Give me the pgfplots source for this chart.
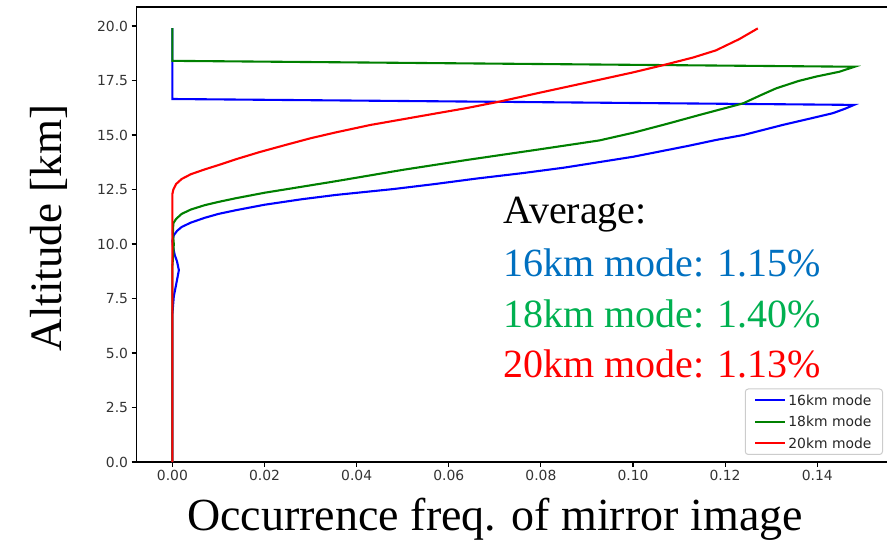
\documentclass[border=0pt]{standalone}
\usepackage{fontspec}
\setmainfont{Liberation Serif}
\newfontfamily\dejavu{DejaVu Sans}
\usepackage{pgfplots}
\pgfplotsset{compat=1.18}
\definecolor{lineblue}{HTML}{0000FF}
\definecolor{linegreen}{HTML}{008000}
\definecolor{linered}{HTML}{FF0000}
\definecolor{txtblue}{HTML}{0070C0}
\definecolor{txtgreen}{HTML}{00B050}
\definecolor{txtred}{HTML}{FF0000}

% occurrence frequency profiles (x = frequency, y = altitude in km)
\pgfplotstableread{
x y
0 0
0 6.8
0.0003 7.6
0.0010 8.35
0.0014 8.8
0.0010 9.2
0.0005 9.5
0.0001 9.9
0 10.15
0.0003 10.4
0.0010 10.6
0.0020 10.78
0.0040 10.98
0.0070 11.2
0.0100 11.38
0.0138 11.55
0.0200 11.8
0.0280 12.05
0.0355 12.25
0.0480 12.52
0.0570 12.75
0.0660 13.0
0.0760 13.25
0.0850 13.5
0.1000 14.0
0.1120 14.5
0.1180 14.77
0.1240 15.0
0.1325 15.46
0.1390 15.78
0.1434 16.0
0.1460 16.2
0.1480 16.38
0 16.65
0 19.9
}\modesixteen

\pgfplotstableread{
x y
0 0
0 9.0
0.0002 9.6
0.0003 10.0
0.0001 10.5
0.0002 10.95
0.0008 11.15
0.0020 11.38
0.0040 11.58
0.0070 11.78
0.0100 11.93
0.0138 12.1
0.0200 12.35
0.0250 12.52
0.0355 12.88
0.0500 13.4
0.0638 13.85
0.0800 14.35
0.0927 14.75
0.1000 15.1
0.1072 15.5
0.1150 15.95
0.1239 16.45
0.1280 16.85
0.1311 17.14
0.1360 17.48
0.1398 17.68
0.1448 17.9
0.1481 18.13
0 18.4
0 19.9
}\modeeighteen

\pgfplotstableread{
x y
0 0
0 12.3
0.0002 12.5
0.0008 12.75
0.0020 12.98
0.0040 13.2
0.0070 13.42
0.0100 13.62
0.0140 13.9
0.0190 14.22
0.0247 14.55
0.0300 14.85
0.0355 15.12
0.0430 15.46
0.0500 15.72
0.0570 15.98
0.0638 16.23
0.0710 16.53
0.0800 16.95
0.0920 17.5
0.1000 17.87
0.1065 18.2
0.1130 18.55
0.1180 18.88
0.1231 19.4
0.1271 19.89
}\modetwenty

\begin{document}
\begin{tikzpicture}
\useasboundingbox (-136.5pt,-80pt) rectangle (750.5pt,462pt);
\begin{axis}[
  at={(0pt,0pt)}, anchor=south west,
  scale only axis, width=753.5pt, height=455pt,
  xmin=-0.0078, xmax=0.1558, ymin=0, ymax=20.87,
  axis x line*=box, axis y line*=left,
  axis line style={line width=1.1pt, black},
  xtick={0,0.02,0.04,0.06,0.08,0.1,0.12,0.14},
  ytick={0,2.5,5,7.5,10,12.5,15,17.5,20},
  scaled x ticks=false, scaled y ticks=false,
  xticklabel style={/pgf/number format/.cd,fixed,fixed zerofill,precision=2},
  yticklabel style={/pgf/number format/.cd,fixed,fixed zerofill,precision=1},
  /pgf/number format/assume math mode=true,
  tick align=outside, major tick length=4.9pt,
  xtick pos=bottom, ytick pos=left,
  tick style={line width=1.1pt, black},
  tick label style={font=\dejavu\fontsize{13.9}{14}\selectfont, text=black!80},
  clip mode=individual,
  legend cell align=left,
  legend image code/.code={\draw[#1, line width=2.1pt] (0pt,0pt) -- (30pt,0pt);},
  legend style={at={(rel axis cs:0.9907,0.0154)}, anchor=south east,
    draw=black!20, line width=1pt, rounded corners=3pt,
    fill=white, fill opacity=0.8, text opacity=1, text=black!85,
    font=\dejavu\fontsize{13.9}{14}\selectfont,
    inner xsep=9pt, inner ysep=4pt, row sep=7pt,
    nodes={inner sep=2pt, text height=10.5pt, text depth=0pt}},
]
\addplot[lineblue, line width=2.1pt] table {\modesixteen};
\addlegendentry{16km mode}
\addplot[linegreen, line width=2.1pt] table {\modeeighteen};
\addlegendentry{18km mode}
\addplot[linered, line width=2.1pt] table {\modetwenty};
\addlegendentry{20km mode}

\node[rotate=90, anchor=base, font=\fontsize{45}{45}\selectfont]
  at (axis description cs:-0.0989,0.514) {Altitude [km]};
\node[anchor=base, font=\fontsize{46}{46}\selectfont]
  at (axis description cs:0.4758,-0.1495) {Occurrence freq. of mirror image};

\node[anchor=base west, font=\fontsize{40}{40}\selectfont, text=black]
  at (axis description cs:0.4820,0.5231) {Average:};
\node[anchor=base west, font=\fontsize{40}{40}\selectfont, text=txtblue]
  at (axis description cs:0.4820,0.4081) {16km mode: 1.15\%};
\node[anchor=base west, font=\fontsize{40}{40}\selectfont, text=txtgreen]
  at (axis description cs:0.4820,0.2959) {18km mode: 1.40\%};
\node[anchor=base west, font=\fontsize{40}{40}\selectfont, text=txtred]
  at (axis description cs:0.4820,0.1860) {20km mode: 1.13\%};
\end{axis}
\end{tikzpicture}
\end{document}
